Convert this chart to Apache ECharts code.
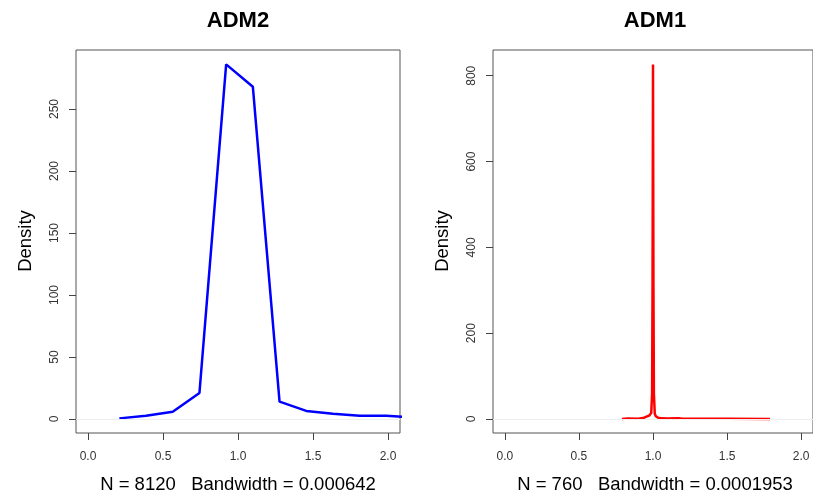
<!DOCTYPE html>
<html>
<head>
<meta charset="utf-8">
<script src="https://cdn.jsdelivr.net/npm/echarts@6/dist/echarts.min.js"></script>
<style>
  html, body { margin: 0; padding: 0; background: #fff; }
  #chart { width: 813px; height: 497px; }
</style>
</head>
<body>
<div id="chart"></div>
<script>
// ADM2 density
const adm2X = [0.209, 0.387, 0.565, 0.743, 0.921, 1.099, 1.277, 1.455, 1.633, 1.811, 1.989, 2.167];
const adm2Y = [0.5, 2.7, 5.9, 21, 286, 268, 14, 6.5, 4.3, 2.7, 2.7, 1.2];

// ADM1 density
const adm1X = [0.79, 0.83, 0.9, 0.94, 0.96, 0.975, 0.988, 0.994, 0.997, 1.0, 1.003, 1.006, 1.012, 1.02, 1.035, 1.06, 1.1, 1.17, 1.2, 1.5, 1.79];
const adm1Y = [0.3, 1, 0.8, 3, 6, 8, 14, 60, 320, 826, 320, 60, 12, 6, 3, 1.5, 1, 1.8, 0.6, 0.4, 0.3];

const xTicks = [0, 0.5, 1, 1.5, 2];
const adm2YTicks = [0, 50, 100, 150, 200, 250];
const adm1YTicks = [0, 200, 400, 600, 800];

const titles = ['ADM2', 'ADM1'];
const subs = ['N = 8120   Bandwidth = 0.000642', 'N = 760   Bandwidth = 0.0001953'];

const FONT = '"Liberation Sans", Arial, Helvetica, sans-serif';

let chart = echarts.init(document.getElementById('chart'));

const zip = (xs, ys) => xs.map((x, i) => [x, ys[i]]);

const xAxisFor = (idx) => ({
  type: 'value',
  gridIndex: idx,
  min: -0.08,
  max: 2.08,
  axisLine: {show: false, onZero: false},
  splitLine: {show: false},
  axisTick: {show: true, length: 7, customValues: xTicks, lineStyle: {color: '#444'}},
  axisLabel: {
    customValues: xTicks,
    margin: 18,
    fontSize: 12,
    color: '#333',
    fontFamily: FONT,
    formatter: v => v.toFixed(1)
  }
});

const yAxisFor = (idx, min, max, ticks) => ({
  type: 'value',
  gridIndex: idx,
  min: min,
  max: max,
  axisLine: {show: false, onZero: false},
  splitLine: {show: false},
  axisTick: {show: true, length: 7, customValues: ticks, lineStyle: {color: '#444'}},
  axisLabel: {
    customValues: ticks,
    rotate: 90,
    margin: 15,
    fontSize: 12,
    color: '#333',
    fontFamily: FONT
  }
});

const zeroLine = {
  silent: true,
  symbol: 'none',
  label: {show: false},
  lineStyle: {color: '#eeeeee', type: 'solid', width: 1},
  data: [{yAxis: 0}]
};

const textItem = (x, y, text, size, bold, rot) => ({
  type: 'text',
  x: x,
  y: y,
  rotation: rot || 0,
  style: {
    text: text,
    fill: '#000',
    font: `${bold ? 'bold ' : ''}${size}px ${FONT}`,
    align: 'center',
    verticalAlign: 'middle'
  }
});

let option = {
  backgroundColor: '#fff',
  animation: false,
  grid: [
    {left: 76, top: 50, width: 324, height: 383, show: true, borderColor: '#555', borderWidth: 1, backgroundColor: 'transparent'},
    {left: 493, top: 50, width: 324, height: 383, show: true, borderColor: '#555', borderWidth: 1, backgroundColor: 'transparent'}
  ],
  xAxis: [xAxisFor(0), xAxisFor(1)],
  yAxis: [
    yAxisFor(0, -11.3, 297.6, adm2YTicks),
    yAxisFor(1, -32.6, 860, adm1YTicks)
  ],
  series: [
    {
      type: 'line',
      xAxisIndex: 0,
      yAxisIndex: 0,
      data: zip(adm2X, adm2Y),
      showSymbol: false,
      lineStyle: {color: '#0000ff', width: 2.5},
      itemStyle: {color: '#0000ff'},
      markLine: zeroLine,
      z: 3
    },
    {
      type: 'line',
      xAxisIndex: 1,
      yAxisIndex: 1,
      data: zip(adm1X, adm1Y),
      showSymbol: false,
      lineStyle: {color: '#ff0000', width: 2.5},
      itemStyle: {color: '#ff0000'},
      markLine: zeroLine,
      z: 3
    }
  ],
  graphic: [
    textItem(238, 21, titles[0], 22, true),
    textItem(655, 21, titles[1], 22, true),
    textItem(238, 485, subs[0], 18.5, false),
    textItem(655, 485, subs[1], 18.5, false),
    textItem(26, 241, 'Density', 18.5, false, Math.PI / 2),
    textItem(443, 241, 'Density', 18.5, false, Math.PI / 2)
  ]
};

chart.setOption(option);
</script>
</body>
</html>
